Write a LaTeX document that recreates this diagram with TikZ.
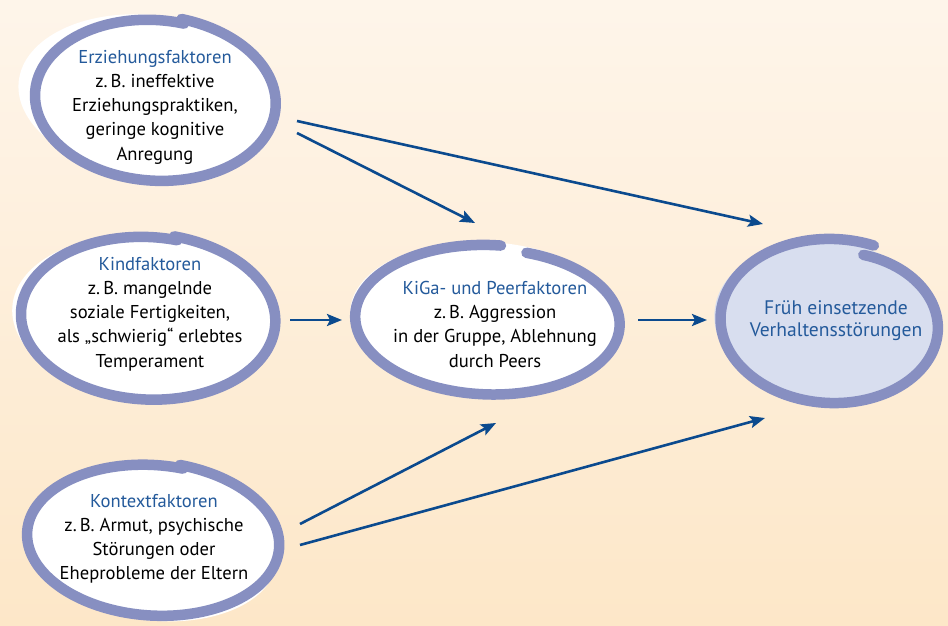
\documentclass[tikz,border=0pt]{standalone}
\usepackage{fontspec}
\setmainfont{PT Sans}
\usetikzlibrary{arrows.meta}
\definecolor{ringcol}{HTML}{878FC1}
\definecolor{titleblue}{HTML}{245A9B}
\definecolor{arrowblue}{HTML}{0B4A8E}
\definecolor{targetfill}{HTML}{D8DEEF}
\definecolor{bgtop}{HTML}{FEF5EA}
\definecolor{bgbottom}{HTML}{FDE7C8}
\newcommand{\handloop}[8]{%
  \draw[#1] plot[smooth, samples=100, domain=#6:#7, variable=\t]
    ({#2+#4*(1+#8*((\t-(#6))/((#7)-(#6)))^3)*cos(\t)},
     {#3-#5*(1+#8*((\t-(#6))/((#7)-(#6)))^3)*sin(\t)});}
\tikzset{
  ring/.style={draw=ringcol, line width=10.5pt, line cap=round, line join=round},
  txt/.style={align=center, inner sep=0pt, anchor=north, font=\fontsize{18.6}{24.2}\selectfont},
  conn/.style={draw=arrowblue, line width=2.6pt, -{Stealth[length=15pt,width=12pt,inset=3pt]}},
}
\begin{document}
\begin{tikzpicture}[x=1pt,y=-1pt]
\fill[top color=bgtop, bottom color=bgbottom] (0,0) rectangle (948,626);
\useasboundingbox (0,0) rectangle (948,626);

% shadows
\fill[white, rotate around={-6:(148,95)}] (148,95) ellipse [x radius=130, y radius=80];
\fill[white, rotate around={-4:(142,316)}] (142,316) ellipse [x radius=130, y radius=80];
\fill[white, rotate around={-8:(150,545)}] (150,545) ellipse [x radius=128, y radius=75];
\fill[white, rotate around={-3:(486,318)}] (486,318) ellipse [x radius=136, y radius=76];
\fill[targetfill, rotate around={-6:(827,322)}] (827,322) ellipse [x radius=113, y radius=80];

% rings
\begin{scope}[rotate around={-4:(154,100)}]
\handloop{ring, fill=white}{154}{100}{119}{80}{78}{440}{0.05}
\end{scope}
\begin{scope}[rotate around={-3:(147,318)}]
\handloop{ring, fill=white}{147}{318}{126}{81}{78}{440}{0.04}
\end{scope}
\begin{scope}[rotate around={-4:(152,540)}]
\handloop{ring, fill=white}{152}{540}{125}{75}{78}{440}{0.04}
\end{scope}
\begin{scope}[rotate around={-2:(489,320)}]
\handloop{ring, fill=white}{489}{320}{134}{75}{86}{434}{-0.05}
\end{scope}
\begin{scope}[rotate around={-3:(833,322)}]
\handloop{ring, fill=targetfill}{833}{322}{113}{83}{71}{434}{-0.14}
\end{scope}

% texts
\node[txt] (erz) at (155,50) {\textcolor{titleblue}{Erziehungsfaktoren}\\z.\,B. ineffektive\\Erziehungspraktiken,\\geringe kognitive\\Anregung};
\node[txt] (kind) at (150,257) {\textcolor{titleblue}{Kindfaktoren}\\z.\,B. mangelnde\\soziale Fertigkeiten,\\als „schwierig“ erlebtes\\Temperament};
\node[txt] (kon) at (154,494) {\textcolor{titleblue}{Kontextfaktoren}\\z.\,B. Armut, psychische\\Störungen oder\\Eheprobleme der Eltern};
\node[txt] (kiga) at (495,281) {\textcolor{titleblue}{KiGa- und Peerfaktoren}\\z.\,B. Aggression\\in der Gruppe, Ablehnung\\durch Peers};
\node[txt, text=titleblue, font=\fontsize{19.6}{22.5}\selectfont] (frueh) at (836,300) {Früh einsetzende\\Verhaltensstörungen};

% connector ends
\coordinate (e1a) at (297,121);
\coordinate (e1b) at (297,133);
\coordinate (k1) at (290,320);
\coordinate (g1) at (638,320);
\coordinate (c1a) at (300,524);
\coordinate (c1b) at (300,545);
\coordinate (fTop) at (763,224);
\coordinate (gTop) at (475,223);
\coordinate (gLeft) at (342,320);
\coordinate (fLeft) at (707,320);
\coordinate (gBot) at (496,423);
\coordinate (fBot) at (765,418);

\draw[conn] (e1a) -- (fTop);
\draw[conn] (e1b) -- (gTop);
\draw[conn] (k1) -- (gLeft);
\draw[conn] (g1) -- (fLeft);
\draw[conn] (c1a) -- (gBot);
\draw[conn] (c1b) -- (fBot);
\end{tikzpicture}
\end{document}
